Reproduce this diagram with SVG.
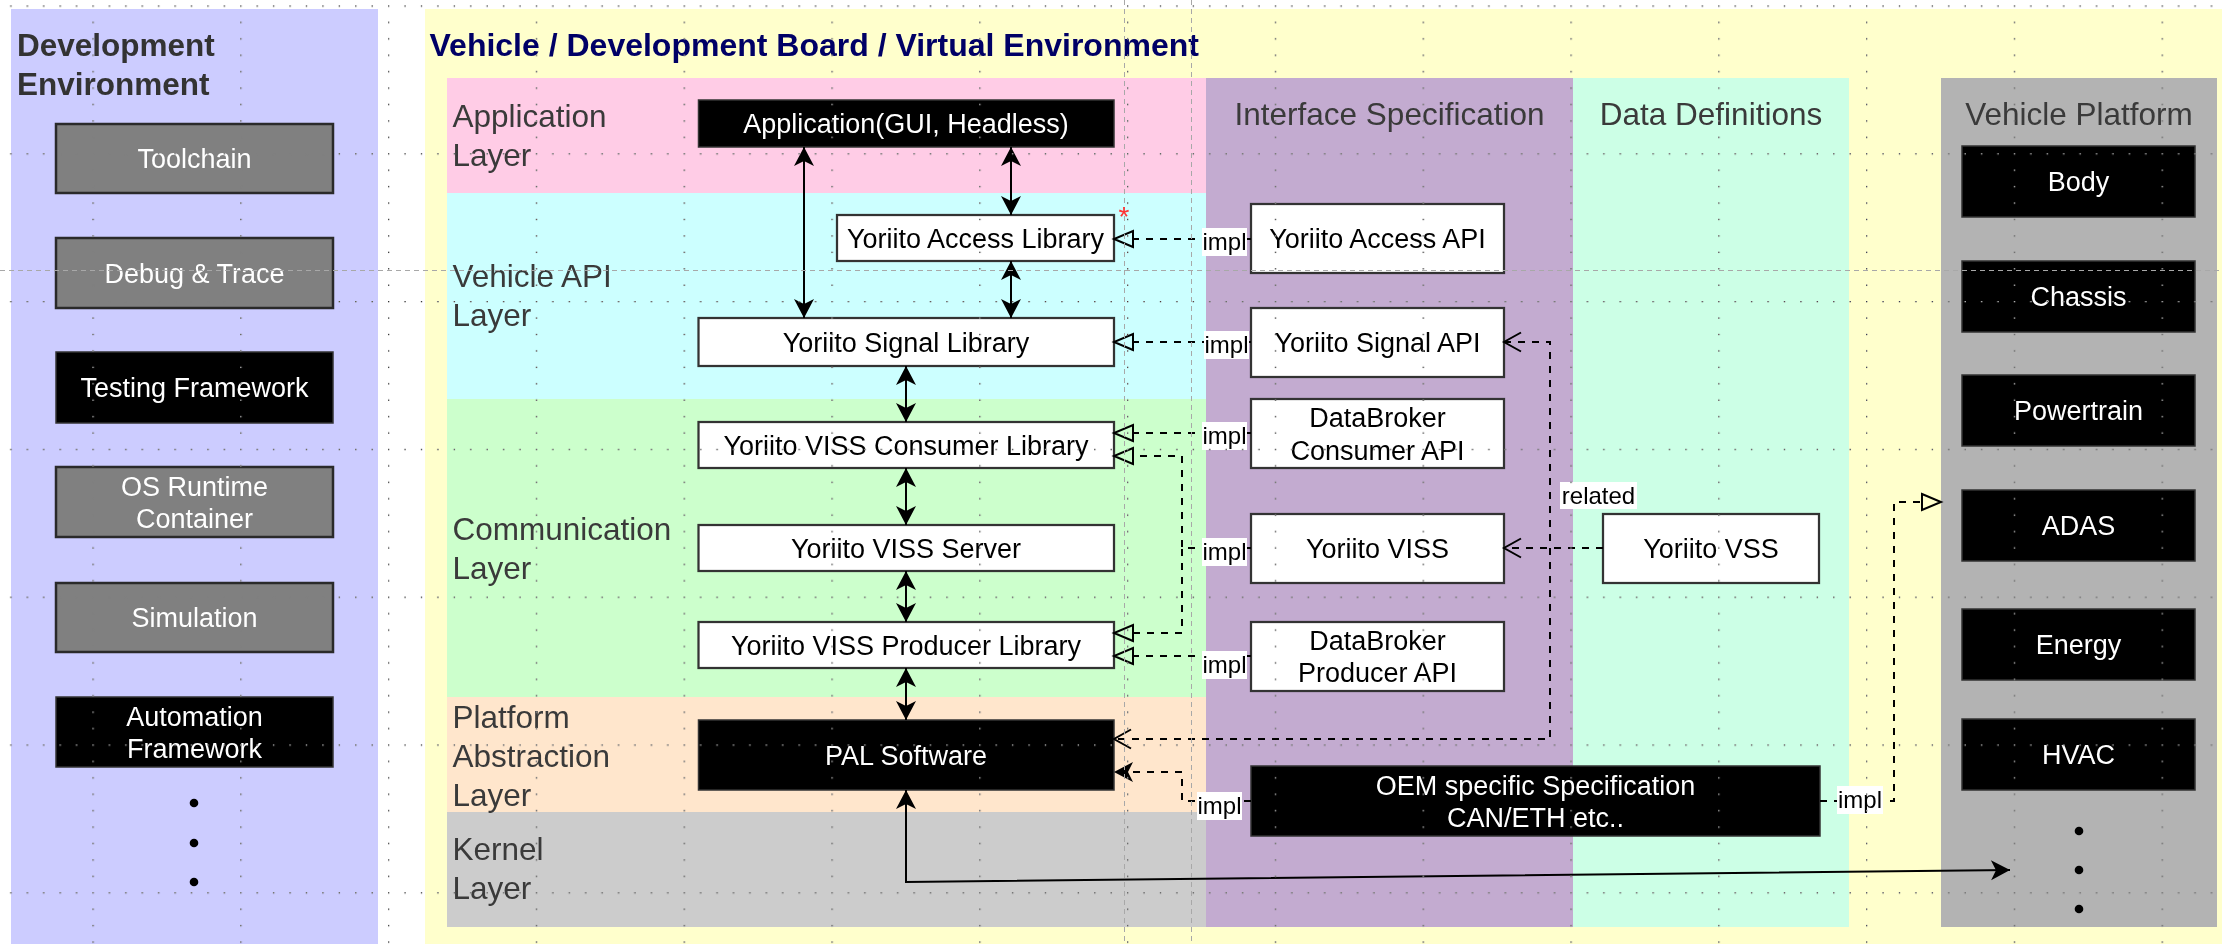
<svg xmlns="http://www.w3.org/2000/svg" width="2222" height="944" viewBox="0 0 2222 944">
<defs>
<style>
text{font-family:"Liberation Sans",Arial,Helvetica,sans-serif}
.box{fill:#fff;stroke:#333;stroke-width:2.25}
.blk{fill:#000;stroke:#333;stroke-width:1.5}
.gry{fill:#808080;stroke:#2a2a2a;stroke-width:2.5}
.t{font-size:27px;text-anchor:middle;fill:#000}
.tw{font-size:27px;text-anchor:middle;fill:#fff}
.lay{font-size:31.5px;fill:#3a3a3a}
.hdr{font-size:31.5px;fill:#3a3a3a;text-anchor:middle}
.solid{fill:none;stroke:#000;stroke-width:2}
.dash{fill:none;stroke:#000;stroke-width:2;stroke-dasharray:7 7}
.lblbg{fill:#fff}
.lbl{font-size:24px;fill:#000;text-anchor:middle}
.guide{stroke:#a8a8a8;stroke-width:1;stroke-dasharray:5 4;fill:none}
</style>
<marker id="classic" markerUnits="userSpaceOnUse" viewBox="-20 -20 40 40" markerWidth="40" markerHeight="40" refX="0" refY="0" orient="auto-start-reverse" overflow="visible">
<path d="M-19,-10 L0,0 L-19,10 L-14,0 Z" fill="#000"/>
</marker>
<marker id="tri" markerUnits="userSpaceOnUse" viewBox="-20 -20 40 40" markerWidth="40" markerHeight="40" refX="0" refY="0" orient="auto" overflow="visible">
<path d="M0,-8 L19,0 L0,8 Z" fill="none" stroke="#000" stroke-width="2"/>
</marker>
<marker id="openv" markerUnits="userSpaceOnUse" viewBox="-20 -20 40 40" markerWidth="40" markerHeight="40" refX="0" refY="0" orient="auto-start-reverse" overflow="visible">
<path d="M-17,-9.5 L0,0 L-17,9.5" fill="none" stroke="#000" stroke-width="2"/>
</marker>
<pattern id="grid" patternUnits="userSpaceOnUse" x="92.4" y="5.4" width="147.8" height="147.8">
<g fill="#fff">
<rect x="0" y="0" width="1.3" height="1.3"/>
<rect x="16.42" y="0" width="1.3" height="1.3"/>
<rect x="32.84" y="0" width="1.3" height="1.3"/>
<rect x="49.27" y="0" width="1.3" height="1.3"/>
<rect x="65.69" y="0" width="1.3" height="1.3"/>
<rect x="82.11" y="0" width="1.3" height="1.3"/>
<rect x="98.53" y="0" width="1.3" height="1.3"/>
<rect x="114.96" y="0" width="1.3" height="1.3"/>
<rect x="131.38" y="0" width="1.3" height="1.3"/>
<rect x="0" y="16.42" width="1.3" height="1.3"/>
<rect x="0" y="32.84" width="1.3" height="1.3"/>
<rect x="0" y="49.27" width="1.3" height="1.3"/>
<rect x="0" y="65.69" width="1.3" height="1.3"/>
<rect x="0" y="82.11" width="1.3" height="1.3"/>
<rect x="0" y="98.53" width="1.3" height="1.3"/>
<rect x="0" y="114.96" width="1.3" height="1.3"/>
<rect x="0" y="131.38" width="1.3" height="1.3"/>
</g>
</pattern>
</defs>

<rect x="0" y="0" width="2222" height="944" fill="#fff"/>

<g id="containers">
<rect id="dev-env" x="11" y="9" width="367" height="935" fill="#CCCCFF"/>
<rect id="vehicle-env" x="425" y="9" width="1797" height="935" fill="#FFFFCC"/>
<rect id="layer-app" x="447" y="78" width="759" height="115" fill="#FFCCE6"/>
<rect id="layer-api" x="447" y="193" width="759" height="206" fill="#CCFFFF"/>
<rect id="layer-comm" x="447" y="399" width="759" height="298" fill="#CCFFCC"/>
<rect id="layer-pal" x="447" y="697" width="759" height="115" fill="#FFE6CC"/>
<rect id="layer-kernel" x="447" y="812" width="759" height="115" fill="#CCCCCC"/>
<rect id="col-interface" x="1206" y="78" width="367" height="849" fill="#C3ABD0"/>
<rect id="col-data" x="1573" y="78" width="276" height="849" fill="#CCFFE6"/>
<rect id="col-platform" x="1941" y="78" width="276" height="849" fill="#B3B3B3"/>
</g>

<g id="titles">
<text x="17" y="56" font-size="31.5" font-weight="bold" fill="#333">Development</text>
<text x="17" y="95" font-size="31.5" font-weight="bold" fill="#333">Environment</text>
<text x="429.5" y="56" font-size="32" font-weight="bold" fill="#000066">Vehicle / Development Board / Virtual Environment</text>
<text class="lay" x="452.5" y="127">Application</text>
<text class="lay" x="452.5" y="166">Layer</text>
<text class="lay" x="452.5" y="287">Vehicle API</text>
<text class="lay" x="452.5" y="326">Layer</text>
<text class="lay" x="452.5" y="540">Communication</text>
<text class="lay" x="452.5" y="579">Layer</text>
<text class="lay" x="452.5" y="728">Platform</text>
<text class="lay" x="452.5" y="767">Abstraction</text>
<text class="lay" x="452.5" y="806">Layer</text>
<text class="lay" x="452.5" y="860">Kernel</text>
<text class="lay" x="452.5" y="899">Layer</text>
<text class="hdr" x="1389.5" y="125">Interface Specification</text>
<text class="hdr" x="1711" y="125">Data Definitions</text>
<text class="hdr" x="2079" y="125">Vehicle Platform</text>
</g>

<g id="dev-nodes">
<g id="toolchain"><rect class="gry" x="56" y="124" width="277" height="69"/><text class="tw" x="194.5" y="168">Toolchain</text></g>
<g id="debug-trace"><rect class="gry" x="56" y="238" width="277" height="70"/><text class="tw" x="194.5" y="283">Debug &amp; Trace</text></g>
<g id="testing-framework"><rect class="blk" x="56" y="352" width="277" height="71"/><text class="tw" x="194.5" y="397">Testing Framework</text></g>
<g id="os-runtime"><rect class="gry" x="56" y="467" width="277" height="70"/><text class="tw" x="194.5" y="495.5">OS Runtime</text><text class="tw" x="194.5" y="527.5">Container</text></g>
<g id="simulation"><rect class="gry" x="56" y="583" width="277" height="69"/><text class="tw" x="194.5" y="627">Simulation</text></g>
<g id="automation-framework"><rect class="blk" x="56" y="697" width="277" height="70"/><text class="tw" x="194.5" y="725.5">Automation</text><text class="tw" x="194.5" y="757.5">Framework</text></g>
<g id="dev-more"><circle cx="194" cy="803" r="4.3" fill="#000"/><circle cx="194" cy="843" r="4.3" fill="#000"/><circle cx="194" cy="882" r="4.3" fill="#000"/></g>
</g>

<g id="stack-nodes">
<g id="application"><rect class="blk" x="698.5" y="100" width="415.5" height="47"/><text class="tw" x="906" y="133">Application(GUI, Headless)</text></g>
<g id="access-library"><rect class="box" x="837" y="215" width="277" height="46"/><text class="t" x="975.5" y="247.7">Yoriito Access Library</text></g>
<g id="signal-library"><rect class="box" x="698.5" y="318" width="415.5" height="48"/><text class="t" x="906" y="351.7">Yoriito Signal Library</text></g>
<g id="consumer-library"><rect class="box" x="698.5" y="422" width="415.5" height="46"/><text class="t" x="906" y="454.7">Yoriito VISS Consumer Library</text></g>
<g id="viss-server"><rect class="box" x="698.5" y="525" width="415.5" height="46"/><text class="t" x="906" y="557.7">Yoriito VISS Server</text></g>
<g id="producer-library"><rect class="box" x="698.5" y="622" width="415.5" height="46"/><text class="t" x="906" y="654.7">Yoriito VISS Producer Library</text></g>
<g id="pal-software"><rect class="blk" x="698.5" y="720" width="415.5" height="70"/><text class="tw" x="906" y="764.7">PAL Software</text></g>
</g>

<g id="interface-nodes">
<g id="access-api"><rect class="box" x="1251" y="204" width="253" height="69"/><text class="t" x="1377.5" y="248">Yoriito Access API</text></g>
<g id="signal-api"><rect class="box" x="1251" y="308" width="253" height="69"/><text class="t" x="1377.5" y="352">Yoriito Signal API</text></g>
<g id="consumer-api"><rect class="box" x="1251" y="399" width="253" height="69"/><text class="t" x="1377.5" y="427">DataBroker</text><text class="t" x="1377.5" y="459.5">Consumer API</text></g>
<g id="viss"><rect class="box" x="1251" y="514" width="253" height="69"/><text class="t" x="1377.5" y="558">Yoriito VISS</text></g>
<g id="producer-api"><rect class="box" x="1251" y="622" width="253" height="69"/><text class="t" x="1377.5" y="650">DataBroker</text><text class="t" x="1377.5" y="682">Producer API</text></g>
<g id="oem-spec"><rect class="blk" x="1251" y="766" width="569" height="70"/><text class="tw" x="1535.5" y="794.5">OEM specific Specification</text><text class="tw" x="1535.5" y="826.5">CAN/ETH etc..</text></g>
<g id="vss"><rect class="box" x="1603" y="514" width="216" height="69"/><text class="t" x="1711" y="558">Yoriito VSS</text></g>
</g>

<g id="platform-nodes">
<g id="body"><rect class="blk" x="1962" y="146" width="233" height="71"/><text class="tw" x="2078.5" y="191">Body</text></g>
<g id="chassis"><rect class="blk" x="1962" y="261" width="233" height="71"/><text class="tw" x="2078.5" y="306">Chassis</text></g>
<g id="powertrain"><rect class="blk" x="1962" y="375" width="233" height="71"/><text class="tw" x="2078.5" y="420">Powertrain</text></g>
<g id="adas"><rect class="blk" x="1962" y="490" width="233" height="71"/><text class="tw" x="2078.5" y="535">ADAS</text></g>
<g id="energy"><rect class="blk" x="1962" y="609" width="233" height="71"/><text class="tw" x="2078.5" y="654">Energy</text></g>
<g id="hvac"><rect class="blk" x="1962" y="719" width="233" height="71"/><text class="tw" x="2078.5" y="764">HVAC</text></g>
<g id="platform-more"><circle cx="2079" cy="831" r="4.3" fill="#000"/><circle cx="2079" cy="870" r="4.3" fill="#000"/><circle cx="2079" cy="909" r="4.3" fill="#000"/></g>
</g>

<g id="connectors">
<path class="solid" d="M804,147 L804,318" marker-start="url(#classic)" marker-end="url(#classic)"/>
<path class="solid" d="M1011,147 L1011,215" marker-start="url(#classic)" marker-end="url(#classic)"/>
<path class="solid" d="M1011,261 L1011,318" marker-start="url(#classic)" marker-end="url(#classic)"/>
<path class="solid" d="M906,366 L906,422" marker-start="url(#classic)" marker-end="url(#classic)"/>
<path class="solid" d="M906,468 L906,525" marker-start="url(#classic)" marker-end="url(#classic)"/>
<path class="solid" d="M906,571 L906,622" marker-start="url(#classic)" marker-end="url(#classic)"/>
<path class="solid" d="M906,668 L906,720" marker-start="url(#classic)" marker-end="url(#classic)"/>
<path class="solid" d="M906,790 L906,882 L2010,870" marker-start="url(#classic)" marker-end="url(#classic)"/>

<path class="dash" d="M1251,239 L1133,239" marker-end="url(#tri)"/>
<path class="dash" d="M1251,342 L1133,342" marker-end="url(#tri)"/>
<path class="dash" d="M1251,433 L1133,433" marker-end="url(#tri)"/>
<path class="dash" d="M1251,548 L1182,548 L1182,456 L1133,456" marker-end="url(#tri)"/>
<path class="dash" d="M1251,548 L1182,548 L1182,633 L1133,633" marker-end="url(#tri)"/>
<path class="dash" d="M1251,656 L1133,656" marker-end="url(#tri)"/>
<path class="dash" d="M1504,342 L1550,342 L1550,739 L1114,739" marker-start="url(#openv)" marker-end="url(#openv)"/>
<path class="dash" d="M1603,548 L1504,548" marker-end="url(#openv)"/>
<path class="dash" d="M1251,801 L1182,801 L1182,772 L1114,772" marker-end="url(#classic)"/>
<path class="dash" d="M1820,801 L1894,801 L1894,502 L1922,502" marker-end="url(#tri)"/>

<g id="labels">
<rect class="lblbg" x="1202" y="228" width="45" height="28"/><text class="lbl" x="1224.5" y="250">impl</text>
<rect class="lblbg" x="1204" y="331" width="45" height="28"/><text class="lbl" x="1226.5" y="353">impl</text>
<rect class="lblbg" x="1202" y="422" width="45" height="28"/><text class="lbl" x="1224.5" y="444">impl</text>
<rect class="lblbg" x="1202" y="538" width="45" height="28"/><text class="lbl" x="1224.5" y="560">impl</text>
<rect class="lblbg" x="1202" y="651" width="45" height="28"/><text class="lbl" x="1224.5" y="673">impl</text>
<rect class="lblbg" x="1197" y="792" width="45" height="28"/><text class="lbl" x="1219.5" y="814">impl</text>
<rect class="lblbg" x="1837" y="786" width="46" height="28"/><text class="lbl" x="1860" y="808">impl</text>
<rect class="lblbg" x="1560" y="482" width="77" height="27"/><text class="lbl" x="1598.5" y="504">related</text>
</g>
</g>

<g id="overlay">
<line class="guide" x1="0" y1="270.5" x2="2222" y2="270.5"/>
<line class="guide" x1="1124.5" y1="0" x2="1124.5" y2="944"/>
<line class="guide" x1="1191.5" y1="0" x2="1191.5" y2="944"/>
<text x="1124" y="226" font-size="28" fill="#ff3333" text-anchor="middle">*</text>
<rect x="0" y="0" width="2222" height="944" fill="url(#grid)" opacity="0.8" style="mix-blend-mode:difference"/>
</g>
</svg>
